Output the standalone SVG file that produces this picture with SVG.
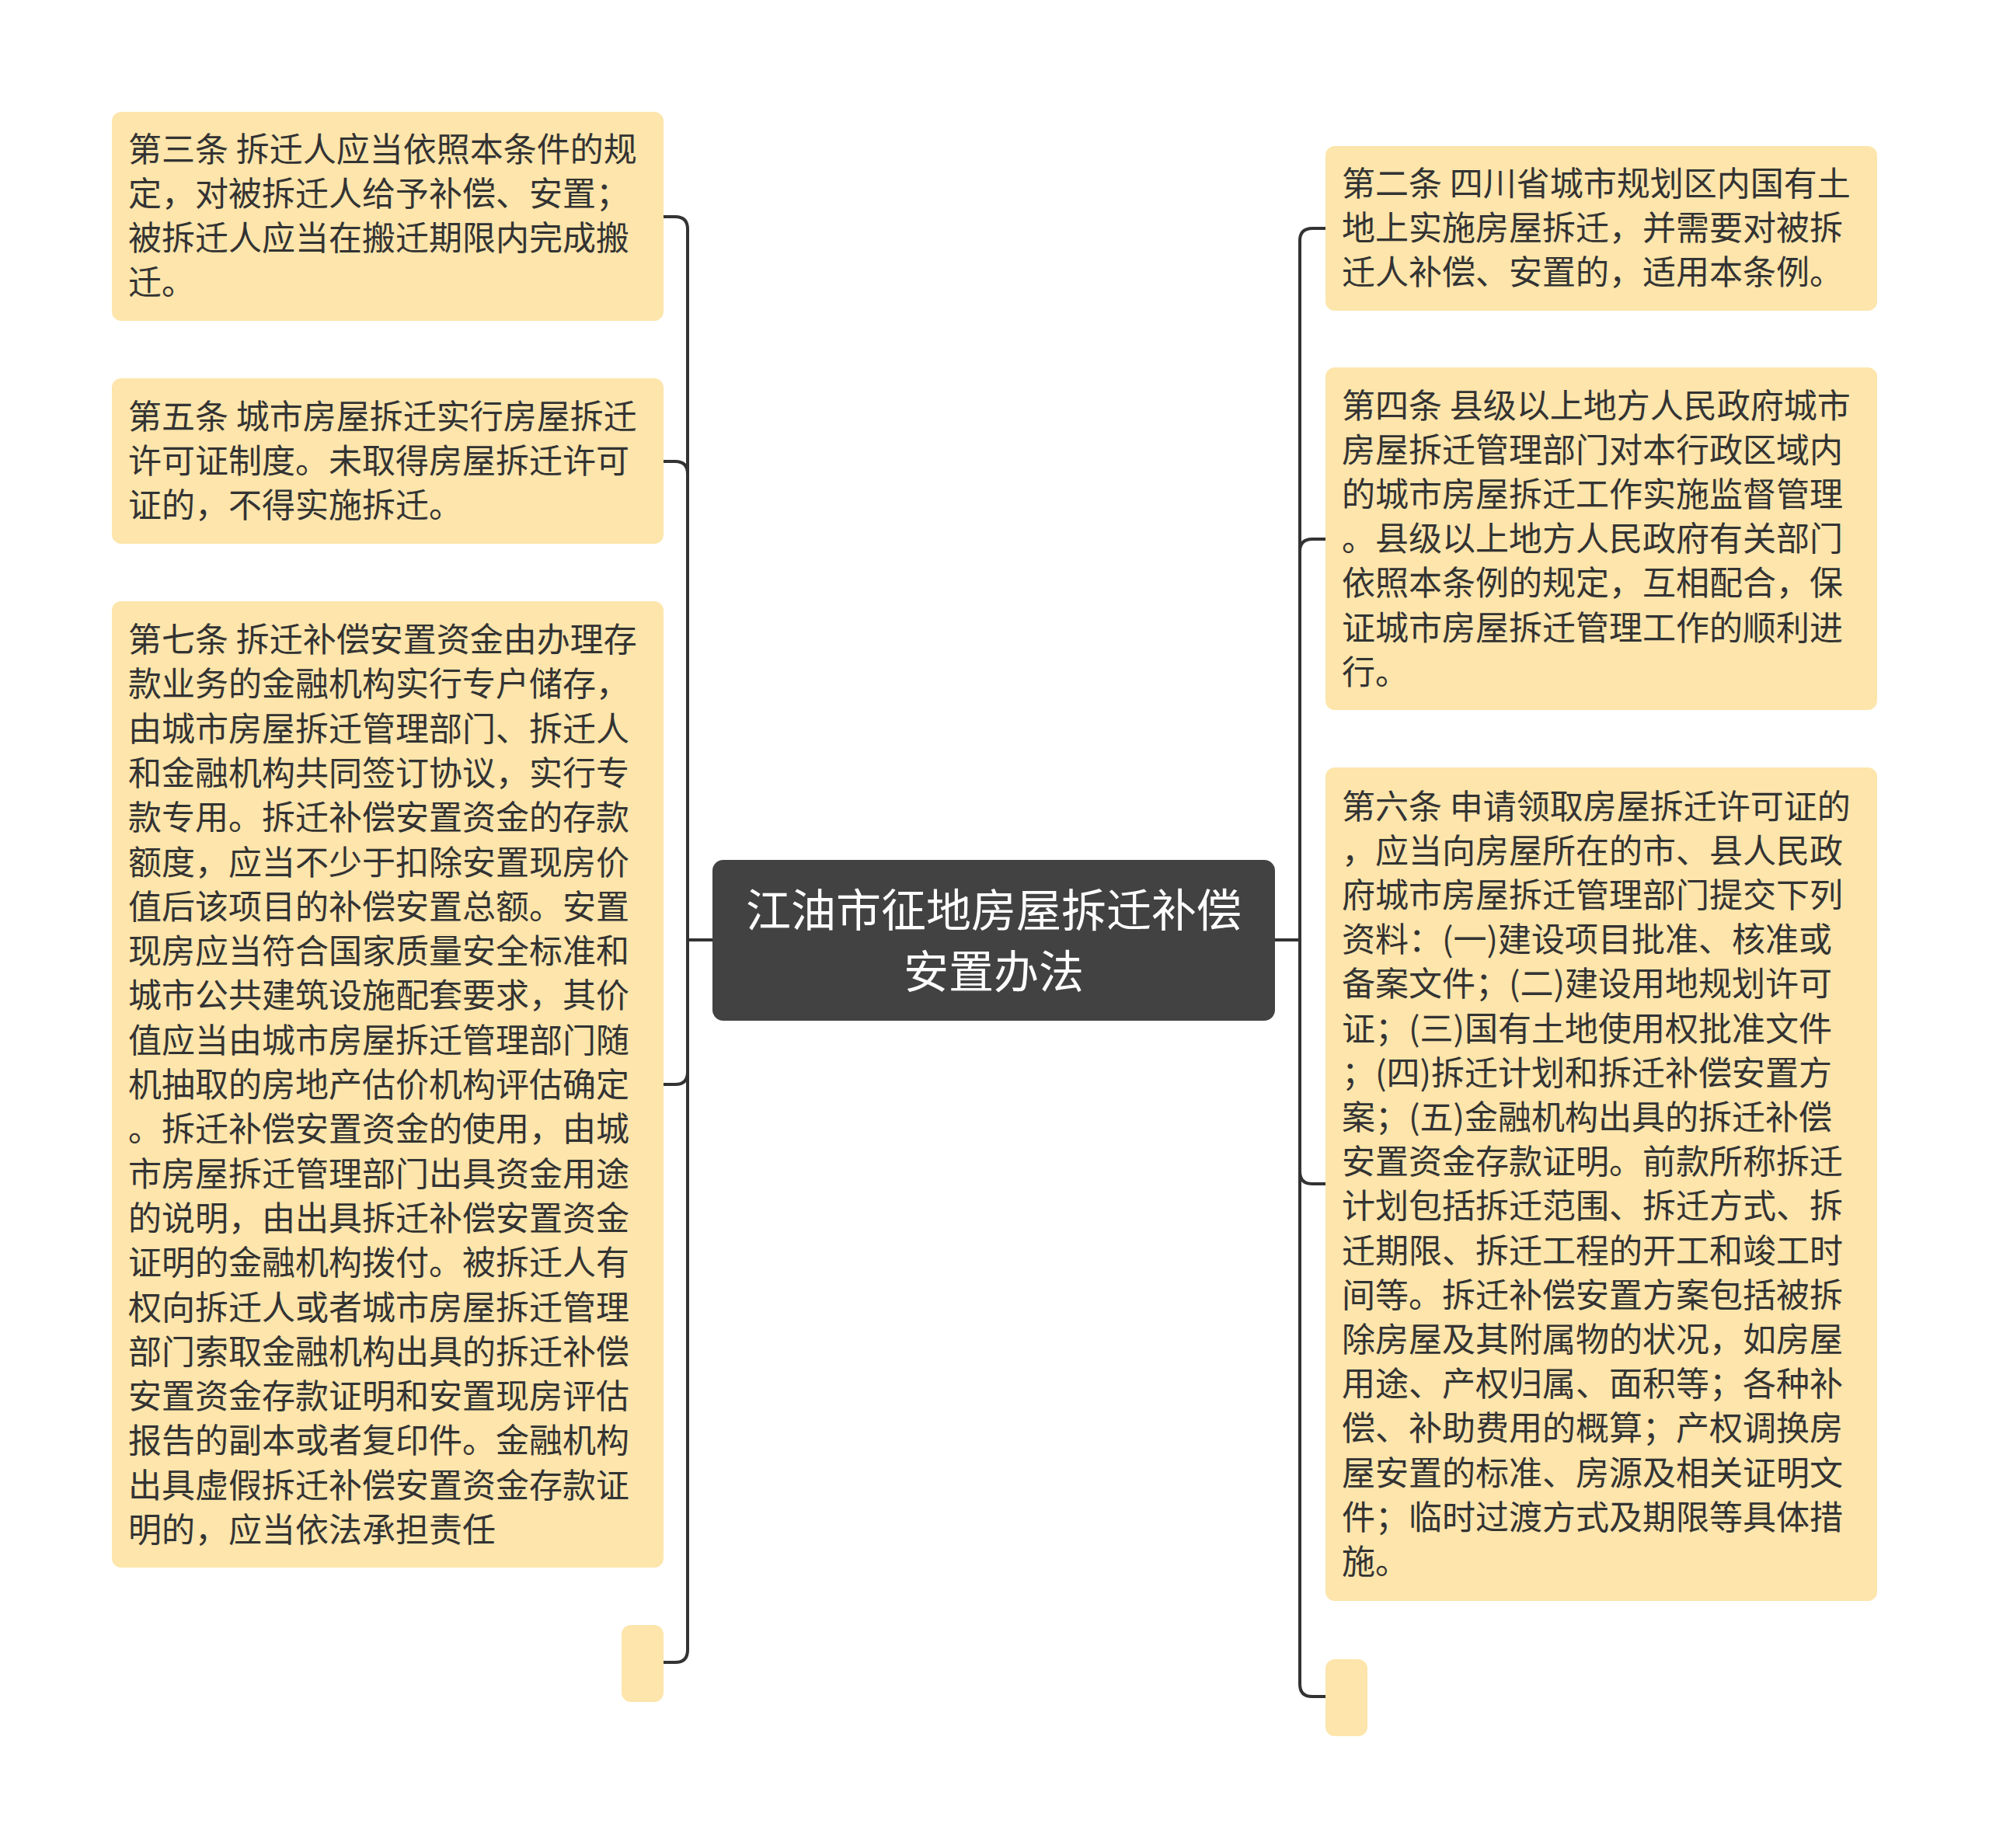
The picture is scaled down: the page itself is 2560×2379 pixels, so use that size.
<svg xmlns="http://www.w3.org/2000/svg" width="2560" height="2379" viewBox="0 0 2560 2379">
<style>
.box{fill:#fde5ab;}
.root{fill:#424242;}
.t{font-family:"Noto Sans CJK SC","Noto Sans",sans-serif;font-size:43px;fill:#333333;}
.rt{font-family:"Noto Sans CJK SC","Noto Sans",sans-serif;font-size:58px;fill:#ffffff;text-anchor:middle;}
.c{fill:none;stroke:#333333;stroke-width:4;}
</style>
<rect width="2560" height="2379" fill="#ffffff"/>
<g id="connectors">
<path class="c" d="M917,1210 H885 V295 Q885,279 869,279 H854"/>
<path class="c" d="M917,1210 H885 V610 Q885,594 869,594 H854"/>
<path class="c" d="M917,1210 H885 V1380 Q885,1396 869,1396 H854"/>
<path class="c" d="M917,1210 H885 V2124 Q885,2140 869,2140 H854"/>
<path class="c" d="M1641,1210 H1673 V310 Q1673,294 1689,294 H1706"/>
<path class="c" d="M1641,1210 H1673 V710 Q1673,694 1689,694 H1706"/>
<path class="c" d="M1641,1210 H1673 V1508 Q1673,1524 1689,1524 H1706"/>
<path class="c" d="M1641,1210 H1673 V2168 Q1673,2184 1689,2184 H1706"/>
</g>
<g id="root">
<rect class="root" x="917" y="1107" width="724" height="207" rx="14"/>
<text class="rt" x="1279" y="1193">江油市征地房屋拆迁补偿</text>
<text class="rt" x="1279" y="1272">安置办法</text>
</g>
<g id="n3">
<rect class="box" x="144" y="144" width="710" height="269" rx="12"/>
<text class="t" x="165" y="208">第三条 拆迁人应当依照本条件的规</text>
<text class="t" x="165" y="265">定，对被拆迁人给予补偿、安置；</text>
<text class="t" x="165" y="322">被拆迁人应当在搬迁期限内完成搬</text>
<text class="t" x="165" y="379">迁。</text>
</g>
<g id="n5">
<rect class="box" x="144" y="487" width="710" height="213" rx="12"/>
<text class="t" x="165" y="552">第五条 城市房屋拆迁实行房屋拆迁</text>
<text class="t" x="165" y="609">许可证制度。未取得房屋拆迁许可</text>
<text class="t" x="165" y="666">证的，不得实施拆迁。</text>
</g>
<g id="n7">
<rect class="box" x="144" y="774" width="710" height="1244" rx="12"/>
<text class="t" x="165" y="839">第七条 拆迁补偿安置资金由办理存</text>
<text class="t" x="165" y="896.3">款业务的金融机构实行专户储存，</text>
<text class="t" x="165" y="953.6">由城市房屋拆迁管理部门、拆迁人</text>
<text class="t" x="165" y="1010.9">和金融机构共同签订协议，实行专</text>
<text class="t" x="165" y="1068.2">款专用。拆迁补偿安置资金的存款</text>
<text class="t" x="165" y="1125.5">额度，应当不少于扣除安置现房价</text>
<text class="t" x="165" y="1182.8">值后该项目的补偿安置总额。安置</text>
<text class="t" x="165" y="1240.1">现房应当符合国家质量安全标准和</text>
<text class="t" x="165" y="1297.4">城市公共建筑设施配套要求，其价</text>
<text class="t" x="165" y="1354.7">值应当由城市房屋拆迁管理部门随</text>
<text class="t" x="165" y="1412">机抽取的房地产估价机构评估确定</text>
<text class="t" x="165" y="1469.3">。拆迁补偿安置资金的使用，由城</text>
<text class="t" x="165" y="1526.6">市房屋拆迁管理部门出具资金用途</text>
<text class="t" x="165" y="1583.9">的说明，由出具拆迁补偿安置资金</text>
<text class="t" x="165" y="1641.2">证明的金融机构拨付。被拆迁人有</text>
<text class="t" x="165" y="1698.5">权向拆迁人或者城市房屋拆迁管理</text>
<text class="t" x="165" y="1755.8">部门索取金融机构出具的拆迁补偿</text>
<text class="t" x="165" y="1813.1">安置资金存款证明和安置现房评估</text>
<text class="t" x="165" y="1870.4">报告的副本或者复印件。金融机构</text>
<text class="t" x="165" y="1927.7">出具虚假拆迁补偿安置资金存款证</text>
<text class="t" x="165" y="1985">明的，应当依法承担责任</text>
</g>
<g id="nL_empty">
<rect class="box" x="800" y="2092" width="54" height="99" rx="12"/>
</g>
<g id="n2">
<rect class="box" x="1706" y="188" width="710" height="212" rx="12"/>
<text class="t" x="1727" y="252">第二条 四川省城市规划区内国有土</text>
<text class="t" x="1727" y="309">地上实施房屋拆迁，并需要对被拆</text>
<text class="t" x="1727" y="366">迁人补偿、安置的，适用本条例。</text>
</g>
<g id="n4">
<rect class="box" x="1706" y="473" width="710" height="441" rx="12"/>
<text class="t" x="1727" y="538">第四条 县级以上地方人民政府城市</text>
<text class="t" x="1727" y="595.1">房屋拆迁管理部门对本行政区域内</text>
<text class="t" x="1727" y="652.2">的城市房屋拆迁工作实施监督管理</text>
<text class="t" x="1727" y="709.3">。县级以上地方人民政府有关部门</text>
<text class="t" x="1727" y="766.4">依照本条例的规定，互相配合，保</text>
<text class="t" x="1727" y="823.5">证城市房屋拆迁管理工作的顺利进</text>
<text class="t" x="1727" y="880.6">行。</text>
</g>
<g id="n6">
<rect class="box" x="1706" y="988" width="710" height="1073" rx="12"/>
<text class="t" x="1727" y="1053.5">第六条 申请领取房屋拆迁许可证的</text>
<text class="t" x="1727" y="1110.7">，应当向房屋所在的市、县人民政</text>
<text class="t" x="1727" y="1167.9">府城市房屋拆迁管理部门提交下列</text>
<text class="t" x="1727" y="1225.1">资料：(一)建设项目批准、核准或</text>
<text class="t" x="1727" y="1282.3">备案文件；(二)建设用地规划许可</text>
<text class="t" x="1727" y="1339.5">证；(三)国有土地使用权批准文件</text>
<text class="t" x="1727" y="1396.7">；(四)拆迁计划和拆迁补偿安置方</text>
<text class="t" x="1727" y="1453.9">案；(五)金融机构出具的拆迁补偿</text>
<text class="t" x="1727" y="1511.1">安置资金存款证明。前款所称拆迁</text>
<text class="t" x="1727" y="1568.3">计划包括拆迁范围、拆迁方式、拆</text>
<text class="t" x="1727" y="1625.5">迁期限、拆迁工程的开工和竣工时</text>
<text class="t" x="1727" y="1682.7">间等。拆迁补偿安置方案包括被拆</text>
<text class="t" x="1727" y="1739.9">除房屋及其附属物的状况，如房屋</text>
<text class="t" x="1727" y="1797.1">用途、产权归属、面积等；各种补</text>
<text class="t" x="1727" y="1854.3">偿、补助费用的概算；产权调换房</text>
<text class="t" x="1727" y="1911.5">屋安置的标准、房源及相关证明文</text>
<text class="t" x="1727" y="1968.7">件；临时过渡方式及期限等具体措</text>
<text class="t" x="1727" y="2025.9">施。</text>
</g>
<g id="nR_empty">
<rect class="box" x="1706" y="2136" width="54" height="99" rx="12"/>
</g>
</svg>
